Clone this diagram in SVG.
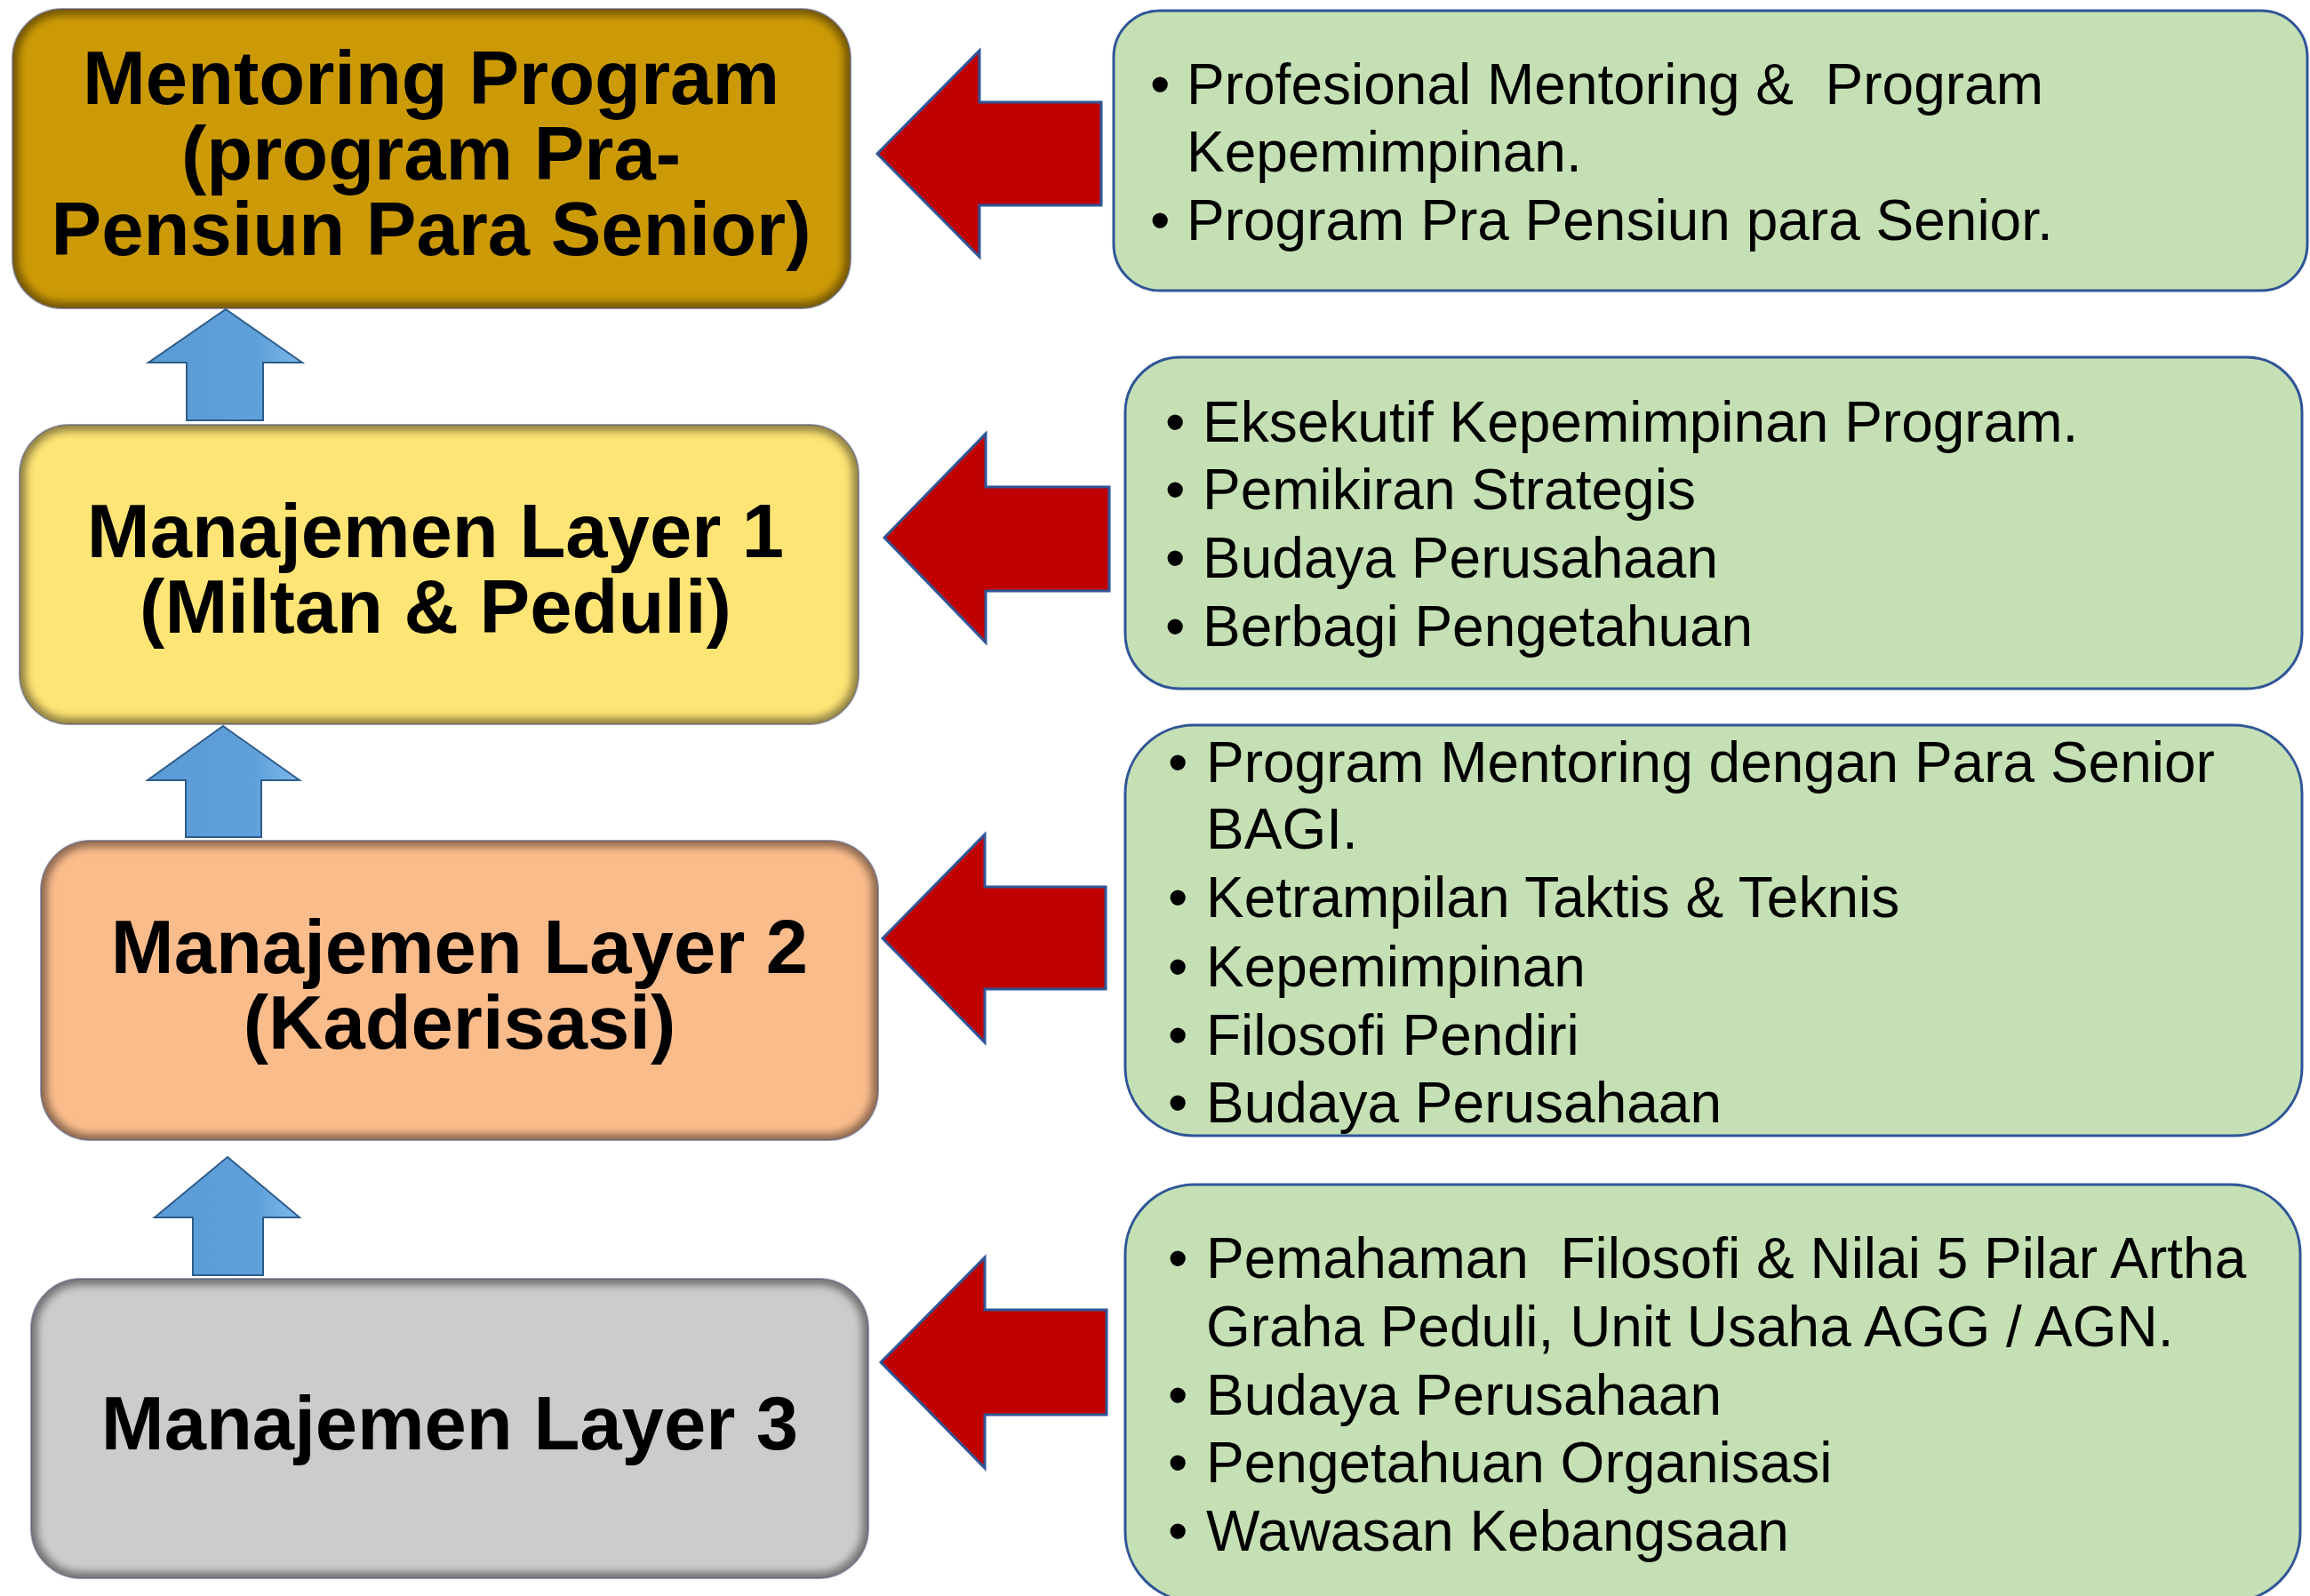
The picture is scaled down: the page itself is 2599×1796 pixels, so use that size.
<svg xmlns="http://www.w3.org/2000/svg" width="2599" height="1796" viewBox="0 0 2599 1796">
<defs>
<style>
.lbl{font-family:"Liberation Sans",Arial,Helvetica,sans-serif;font-weight:bold;font-size:85px;text-anchor:middle;fill:#000}
.item{font-family:"Liberation Sans",Arial,Helvetica,sans-serif;font-size:64px;fill:#000;white-space:pre}
.info{fill:#C5E0B4;stroke:#2F5597;stroke-width:3}
.red{fill:#C00000;stroke:#2F5597;stroke-width:3;stroke-linejoin:miter}
.blue{fill:url(#gBlue);stroke:#2E5C8A;stroke-width:2}
.edge{fill:none;stroke:#000;stroke-opacity:0.45;stroke-width:14;filter:url(#blur)}
.hl{fill:none;stroke:#fff;stroke-opacity:0.45;stroke-width:6;filter:url(#blur2)}
.rim{fill:none;stroke:#5a5a7a;stroke-opacity:0.6;stroke-width:2}
</style>
<filter id="blur" x="-5%" y="-5%" width="110%" height="110%"><feGaussianBlur stdDeviation="5"/></filter>
<filter id="blur2" x="-5%" y="-5%" width="110%" height="110%"><feGaussianBlur stdDeviation="2.5"/></filter>
<linearGradient id="gBlue" x1="0" y1="0" x2="1" y2="0">
<stop offset="0" stop-color="#5B9BD5"/><stop offset="0.7" stop-color="#5FA0DA"/><stop offset="1" stop-color="#7DB8EA"/>
</linearGradient>
<clipPath id="c1"><rect x="14" y="10" width="943" height="337" rx="56"/></clipPath>
<clipPath id="c2"><rect x="22" y="478" width="944" height="337" rx="56"/></clipPath>
<clipPath id="c3"><rect x="46" y="946" width="942" height="337" rx="56"/></clipPath>
<clipPath id="c4"><rect x="35" y="1439" width="942" height="337" rx="56"/></clipPath>
</defs>
<rect width="2599" height="1796" fill="#fff"/>

<g id="n-mentoring">
<rect x="14" y="10" width="943" height="337" rx="56" fill="#CC9A06"/>
<g clip-path="url(#c1)">
<rect x="14" y="10" width="943" height="337" rx="56" class="edge"/>
<path d="M60 22 H910" class="hl" stroke-linecap="round"/>
</g>
<rect x="14" y="10" width="943" height="337" rx="56" class="rim"/>
<text class="lbl" x="485" y="117">Mentoring Program</text>
<text class="lbl" x="485" y="202">(program Pra-</text>
<text class="lbl" x="485" y="287">Pensiun Para Senior)</text>
</g>

<g id="n-layer1">
<rect x="22" y="478" width="944" height="337" rx="56" fill="#FFE575"/>
<g clip-path="url(#c2)">
<rect x="22" y="478" width="944" height="337" rx="56" class="edge"/>
<path d="M70 490 H918" class="hl" stroke-linecap="round"/>
</g>
<rect x="22" y="478" width="944" height="337" rx="56" class="rim"/>
<text class="lbl" x="490" y="627">Manajemen Layer 1</text>
<text class="lbl" x="490" y="712">(Miltan &amp; Peduli)</text>
</g>

<g id="n-layer2">
<rect x="46" y="946" width="942" height="337" rx="56" fill="#FBBC8C"/>
<g clip-path="url(#c3)">
<rect x="46" y="946" width="942" height="337" rx="56" class="edge"/>
<path d="M94 958 H940" class="hl" stroke-linecap="round"/>
</g>
<rect x="46" y="946" width="942" height="337" rx="56" class="rim"/>
<text class="lbl" x="517" y="1095">Manajemen Layer 2</text>
<text class="lbl" x="517" y="1180">(Kaderisasi)</text>
</g>

<g id="n-layer3">
<rect x="35" y="1439" width="942" height="337" rx="56" fill="#CCCCCC"/>
<g clip-path="url(#c4)">
<rect x="35" y="1439" width="942" height="337" rx="56" class="edge"/>
<path d="M83 1451 H929" class="hl" stroke-linecap="round"/>
</g>
<rect x="35" y="1439" width="942" height="337" rx="56" class="rim"/>
<text class="lbl" x="506" y="1631">Manajemen Layer 3</text>
</g>

<g id="info1">
<rect x="1253" y="12" width="1343" height="315" rx="52" class="info"/>
<text class="item" xml:space="preserve"><tspan x="1294" y="117">•</tspan><tspan x="1335" y="117">Profesional Mentoring &amp;  Program</tspan></text>
<text class="item" x="1335" y="193">Kepemimpinan.</text>
<text class="item"><tspan x="1294" y="270">•</tspan><tspan x="1335" y="270">Program Pra Pensiun para Senior.</tspan></text>
</g>

<g id="info2">
<rect x="1266" y="402" width="1324" height="373" rx="62" class="info"/>
<text class="item"><tspan x="1311" y="497">•</tspan><tspan x="1353" y="497">Eksekutif Kepemimpinan Program.</tspan></text>
<text class="item"><tspan x="1311" y="573">•</tspan><tspan x="1353" y="573">Pemikiran Strategis</tspan></text>
<text class="item"><tspan x="1311" y="650">•</tspan><tspan x="1353" y="650">Budaya Perusahaan</tspan></text>
<text class="item"><tspan x="1311" y="727">•</tspan><tspan x="1353" y="727">Berbagi Pengetahuan</tspan></text>
</g>

<g id="info3">
<rect x="1266" y="816" width="1324" height="462" rx="77" class="info"/>
<text class="item"><tspan x="1314" y="880">•</tspan><tspan x="1357" y="880">Program Mentoring dengan Para Senior</tspan></text>
<text class="item" x="1357" y="955">BAGI.</text>
<text class="item"><tspan x="1314" y="1032">•</tspan><tspan x="1357" y="1032">Ketrampilan Taktis &amp; Teknis</tspan></text>
<text class="item"><tspan x="1314" y="1110">•</tspan><tspan x="1357" y="1110">Kepemimpinan</tspan></text>
<text class="item"><tspan x="1314" y="1187">•</tspan><tspan x="1357" y="1187">Filosofi Pendiri</tspan></text>
<text class="item"><tspan x="1314" y="1263">•</tspan><tspan x="1357" y="1263">Budaya Perusahaan</tspan></text>
</g>

<g id="info4">
<rect x="1266" y="1333" width="1322" height="469" rx="78" class="info"/>
<text class="item" xml:space="preserve"><tspan x="1314" y="1438">•</tspan><tspan x="1357" y="1438">Pemahaman  Filosofi &amp; Nilai 5 Pilar Artha</tspan></text>
<text class="item" x="1357" y="1515">Graha Peduli, Unit Usaha AGG / AGN.</text>
<text class="item"><tspan x="1314" y="1592">•</tspan><tspan x="1357" y="1592">Budaya Perusahaan</tspan></text>
<text class="item"><tspan x="1314" y="1668">•</tspan><tspan x="1357" y="1668">Pengetahuan Organisasi</tspan></text>
<text class="item"><tspan x="1314" y="1745">•</tspan><tspan x="1357" y="1745">Wawasan Kebangsaan</tspan></text>
</g>

<g id="connectors">
<polygon class="blue" points="254,348 340,408 296,408 296,473 210,473 210,408 167,408"/>
<polygon class="blue" points="251,817 337,878 294,878 294,942 209,942 209,878 166,878"/>
<polygon class="blue" points="256,1302 337,1370 296,1370 296,1435 217,1435 217,1370 174,1370"/>
<polygon class="red" points="987,173 1102,57 1102,115 1239,115 1239,231 1102,231 1102,289"/>
<polygon class="red" points="995,605 1109,488 1109,548 1248,548 1248,665 1109,665 1109,723"/>
<polygon class="red" points="993,1056 1108,939 1108,998 1244,998 1244,1113 1108,1113 1108,1173"/>
<polygon class="red" points="991,1533 1108,1415 1108,1474 1245,1474 1245,1592 1108,1592 1108,1652"/>
</g>
</svg>
